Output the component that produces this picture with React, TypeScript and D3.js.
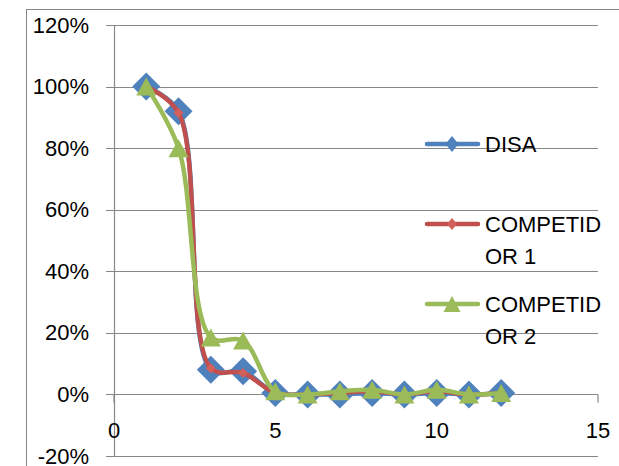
import React from "react";
import * as d3 from "d3";

const xValues = [1, 2, 3, 4, 5, 6, 7, 8, 9, 10, 11, 12];
const disa = [100, 92, 8, 7.5, 0.5, 0, 0, 0.5, 0, 0.5, 0, 0.5];
const competidor1 = [100, 91.5, 8.5, 7, 0.5, 0, 0.5, 1, 0, 1, 0, 0.5];
const competidor2 = [100, 80, 18.5, 17.5, 1, 0, 1, 1.5, 0, 1.5, 0, 0.5];
const yTicks = [-20, 0, 20, 40, 60, 80, 100, 120];
const xTicks = [0, 5, 10, 15];
const seriesNames = ["DISA", "COMPETIDOR 1", "COMPETIDOR 2"];
const legendLines = [["DISA"], ["COMPETID", "OR 1"], ["COMPETID", "OR 2"]];

const W = 619;
const H = 466;
const FONT = "'Liberation Sans', Arial, sans-serif";
const GRID = "#878787";
const BLUE = "#4F81BD";
const RED = "#C0504D";
const RED_MARK = "#D35F5B";
const GREEN = "#9BBB59";

const x = d3.scaleLinear().domain([0, 15]).range([114, 598]);
const y = d3.scaleLinear().domain([-20, 120]).range([456, 25]);

const lineGen = d3
  .line<[number, number]>()
  .x((d) => x(d[0]))
  .y((d) => y(d[1]))
  .curve(d3.curveCatmullRom.alpha(0.5));

function diamond(cx: number, cy: number, hw: number, hh: number) {
  return `M${cx},${cy - hh}L${cx + hw},${cy}L${cx},${cy + hh}L${cx - hw},${cy}Z`;
}
function triangle(cx: number, cy: number, hw: number, hh: number) {
  return `M${cx},${cy - hh}L${cx + hw},${cy + hh}L${cx - hw},${cy + hh}Z`;
}

export default function App() {
  const series = [disa, competidor1, competidor2];
  const colors = [BLUE, RED, GREEN];
  const legendY = [144, 224, 304];
  return (
    <svg
      width={W}
      height={H}
      style={{ position: "absolute", left: 0, top: 0, background: "#fff" }}
      fontFamily={FONT}
    >
      <rect x={0} y={0} width={W} height={H} fill="#fff" />
      <rect x={26.5} y={9.5} width={W + 20} height={H + 20} fill="none" stroke={GRID} strokeWidth={1} />
      {yTicks.map((t) => (
        <g key={t}>
          <line x1={106} x2={598} y1={Math.round(y(t)) + 0.5} y2={Math.round(y(t)) + 0.5} stroke={GRID} strokeWidth={1.2} />
          <text x={89} y={y(t)} textAnchor="end" dominantBaseline="central" fontSize={22} fill="#000">
            {t}%
          </text>
        </g>
      ))}
      <line x1={114.5} x2={114.5} y1={y(120)} y2={y(-20)} stroke={GRID} strokeWidth={1.2} />
      {xTicks.map((t) => (
        <g key={t}>
          <line x1={x(t)} x2={x(t)} y1={y(0)} y2={y(0) + 8} stroke={GRID} strokeWidth={1.2} />
          <text x={x(t)} y={430} textAnchor="middle" dominantBaseline="central" fontSize={22} fill="#000">
            {t}
          </text>
        </g>
      ))}
      {series.map((s, si) => {
        const pts = xValues.map((xv, i) => [xv, s[i]] as [number, number]);
        return (
          <g key={seriesNames[si]}>
            <path d={lineGen(pts) || ""} fill="none" stroke={colors[si]} strokeWidth={si === 0 ? 4.5 : 4.5} strokeLinejoin="round" strokeLinecap="round" />
            {pts.map((p, i) => {
              const cx = x(p[0]);
              const cy = y(p[1]);
              if (si === 0) return <path key={i} d={diamond(cx, cy, 14, 14)} fill={BLUE} />;
              if (si === 1) return <path key={i} d={diamond(cx, cy, 5, 5)} fill={RED_MARK} />;
              return <path key={i} d={triangle(cx, cy, 10, 9)} fill={GREEN} />;
            })}
          </g>
        );
      })}
      {seriesNames.map((name, si) => {
        const ly = legendY[si];
        return (
          <g key={name}>
            <line x1={427} x2={478} y1={ly} y2={ly} stroke={colors[si]} strokeWidth={4.5} strokeLinecap="round" />
            {si === 0 && <path d={diamond(452, ly, 6.5, 8)} fill={BLUE} />}
            {si === 1 && <path d={diamond(452, ly, 5, 6)} fill={RED_MARK} />}
            {si === 2 && <path d={triangle(452, ly, 8.5, 8)} fill={GREEN} />}
            {legendLines[si].map((ln, li) => (
              <text key={li} x={485} y={ly + li * 32} dominantBaseline="central" fontSize={22} fill="#000">
                {ln}
              </text>
            ))}
          </g>
        );
      })}
    </svg>
  );
}
